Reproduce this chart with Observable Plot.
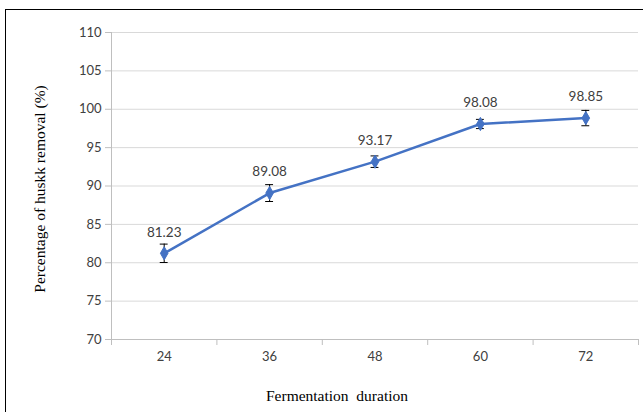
<!DOCTYPE html>
<html>
<head>
<meta charset="utf-8">
<script src="https://cdn.jsdelivr.net/npm/d3@7"></script>
<script src="https://cdn.jsdelivr.net/npm/@observablehq/plot@0.6"></script>
<style>
  html, body { margin: 0; padding: 0; background: #fff; }
  #wrap { position: relative; width: 643px; height: 412px; overflow: hidden; }
  #border { position: absolute; left: 5px; top: 9px; right: -5px; bottom: -5px;
            border-left: 1.5px solid #000; border-top: 1.5px solid #000; pointer-events: none; }
</style>
</head>
<body>
<div id="wrap"><div id="chart"></div><div id="border"></div></div>
<script>
const durations = [24, 36, 48, 60, 72];
const removal = [81.23, 89.08, 93.17, 98.08, 98.85];
const errors = [1.2, 1.1, 0.75, 0.6, 1.0];
const yTicks = [70, 75, 80, 85, 90, 95, 100, 105, 110];
const xBoundaries = [18, 30, 42, 54, 66, 78];
const xTitle = "Fermentation\u00a0 duration";
const yTitle = "Percentage of huskk removal (%)";

const data = durations.map((d, i) => ({x: d, y: removal[i], lo: removal[i] - errors[i], hi: removal[i] + errors[i]}));
const capHalf = 0.45;

const sans = "Lato, 'Open Sans', sans-serif";
const serif = "'Liberation Serif', 'DejaVu Serif', serif";

const chart = Plot.plot({
  width: 643,
  height: 412,
  marginLeft: 111,
  marginRight: 5,
  marginTop: 32,
  marginBottom: 73,
  style: {fontFamily: sans, fontSize: "13px", color: "#404040", background: "transparent"},
  x: {domain: [18, 78], axis: null},
  y: {domain: [70, 110], axis: null},
  marks: [
    Plot.gridY(yTicks.slice(1), {stroke: "#d9d9d9", strokeOpacity: 1, strokeWidth: 1}),
    Plot.ruleY([70], {stroke: "#bfbfbf", strokeWidth: 1}),
    Plot.ruleX([18], {stroke: "#bfbfbf", strokeWidth: 1}),
    Plot.axisY({ticks: yTicks, tickSize: 6, tickPadding: 4, stroke: "#bfbfbf", fill: "#404040", fontSize: 13, label: null}),
    Plot.axisX({ticks: xBoundaries, tickSize: 6, tickFormat: () => "", stroke: "#bfbfbf", label: null}),
    Plot.axisX({ticks: durations, tickSize: 0, tickPadding: 12, fill: "#404040", fontSize: 13, label: null}),
    Plot.ruleX(data, {x: "x", y1: "lo", y2: "hi", stroke: "#000", strokeWidth: 1}),
    Plot.ruleY(data, {y: "lo", x1: d => d.x - capHalf, x2: d => d.x + capHalf, stroke: "#000", strokeWidth: 1}),
    Plot.ruleY(data, {y: "hi", x1: d => d.x - capHalf, x2: d => d.x + capHalf, stroke: "#000", strokeWidth: 1}),
    Plot.line(data, {x: "x", y: "y", stroke: "#4472C4", strokeWidth: 2.5}),
    Plot.dot(data, {x: "x", y: "y", symbol: "diamond", r: 4, fill: "#4472C4", stroke: "#4472C4", strokeWidth: 1}),
    Plot.text(data, {x: "x", y: "y", text: d => d.y.toFixed(2), dy: -21, fill: "#404040", fontSize: 13.5}),
    Plot.text([xTitle], {frameAnchor: "bottom", dx: -38, dy: 61, fontFamily: serif, fontSize: 15.5, fill: "#000"}),
    Plot.text([yTitle], {frameAnchor: "left", textAnchor: "middle", dx: -71, dy: 3, rotate: -90, fontFamily: serif, fontSize: 15.5, fill: "#000"})
  ]
});
document.getElementById("chart").append(chart);
</script>
</body>
</html>
